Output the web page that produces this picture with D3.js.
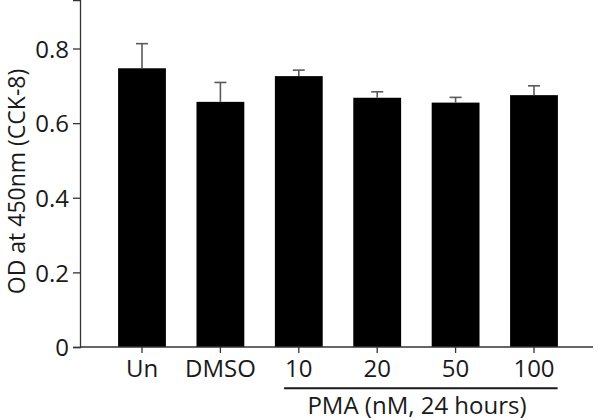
<!DOCTYPE html>
<html lang="en">
<head>
    <meta charset="UTF-8">
    <title>CCK-8 assay</title>
    <script src="https://cdnjs.cloudflare.com/ajax/libs/d3/7.4.4/d3.min.js"></script>
    <style>
        body {
            margin: 0;
            background: #fff;
            font-family: 'Open Sans', 'Noto Sans', sans-serif;
        }
        svg text {
            fill: #1a1a1a;
        }
    </style>
</head>
<body>
    <svg id="chart" width="598" height="420"></svg>

    <script>
        // Values
        const groups = ["Un", "DMSO", "10", "20", "50", "100"];
        const means = [0.747, 0.657, 0.726, 0.668, 0.655, 0.675];
        const errors = [0.066, 0.052, 0.016, 0.016, 0.014, 0.025];
        const yTicks = [0, 0.2, 0.4, 0.6, 0.8];
        const pmaGroups = ["10", "20", "50", "100"];

        const font = "'Open Sans', 'Noto Sans', sans-serif";
        const svg = d3.select("#chart");

        const y = d3.scaleLinear().domain([0, 0.93]).range([347, 0]);
        const x = d3.scaleBand()
            .domain(groups)
            .range([102.8, 573.2])
            .paddingInner(0.39)
            .paddingOuter(0.195);

        const axisColor = "#333";

        // bars
        svg.selectAll(".bar")
            .data(groups)
            .enter()
            .append("rect")
            .attr("class", "bar")
            .attr("x", d => x(d))
            .attr("width", x.bandwidth())
            .attr("y", (d, i) => y(means[i]))
            .attr("height", (d, i) => y(0) - y(means[i]))
            .attr("fill", "#000");

        // error bars (upper only)
        const err = svg.append("g")
            .attr("stroke", "#5a5a5a")
            .attr("stroke-width", 1.6);
        groups.forEach((g, i) => {
            const cx = x(g) + x.bandwidth() / 2;
            err.append("line")
                .attr("x1", cx).attr("x2", cx)
                .attr("y1", y(means[i])).attr("y2", y(means[i] + errors[i]));
            err.append("line")
                .attr("x1", cx - 6).attr("x2", cx + 6)
                .attr("y1", y(means[i] + errors[i])).attr("y2", y(means[i] + errors[i]));
        });

        // y axis
        const yAxis = svg.append("g")
            .attr("transform", "translate(80,0)")
            .call(d3.axisLeft(y).tickValues(yTicks).tickSize(7).tickPadding(4)
                .tickFormat(d => d === 0 ? "0" : d3.format(".1f")(d)));
        yAxis.select(".domain").attr("stroke", axisColor).attr("stroke-width", 1.3);
        yAxis.selectAll(".tick line").attr("stroke", axisColor).attr("stroke-width", 1.3);
        yAxis.selectAll(".tick text")
            .attr("font-size", 24)
            .attr("font-family", font)
            .attr("dy", "0.36em")
            .attr("fill", "#1a1a1a");

        // x axis line
        svg.append("line")
            .attr("x1", 80).attr("x2", 593)
            .attr("y1", y(0)).attr("y2", y(0))
            .attr("stroke", axisColor).attr("stroke-width", 1.3);

        // x ticks + labels
        const xt = svg.append("g");
        groups.forEach(g => {
            const cx = x(g) + x.bandwidth() / 2;
            xt.append("line")
                .attr("x1", cx).attr("x2", cx)
                .attr("y1", y(0)).attr("y2", y(0) + 6)
                .attr("stroke", axisColor).attr("stroke-width", 1.3);
        });
        const xLabels = xt.selectAll(".xlab")
            .data(groups)
            .enter()
            .append("text")
            .attr("class", "xlab")
            .attr("x", d => x(d) + x.bandwidth() / 2)
            .attr("y", 376.5)
            .attr("text-anchor", "middle")
            .attr("font-size", 24)
            .text(d => d);

        // PMA bracket line under the dose labels
        const first = xLabels.filter(d => d === pmaGroups[0]).node().getBBox();
        const last = xLabels.filter(d => d === pmaGroups[pmaGroups.length - 1]).node().getBBox();
        svg.append("line")
            .attr("x1", first.x - 1)
            .attr("x2", last.x + last.width + 3)
            .attr("y1", 388.3).attr("y2", 388.3)
            .attr("stroke", "#1a1a1a").attr("stroke-width", 2);

        svg.append("text")
            .attr("x", 417)
            .attr("y", 414)
            .attr("text-anchor", "middle")
            .attr("font-size", 24)
            .text("PMA (nM, 24 hours)");

        // y axis title
        svg.append("text")
            .attr("transform", "translate(25,181.5) rotate(-90)")
            .attr("text-anchor", "middle")
            .attr("font-size", 23)
            .text("OD at 450nm (CCK-8)");
    </script>
</body>
</html>
